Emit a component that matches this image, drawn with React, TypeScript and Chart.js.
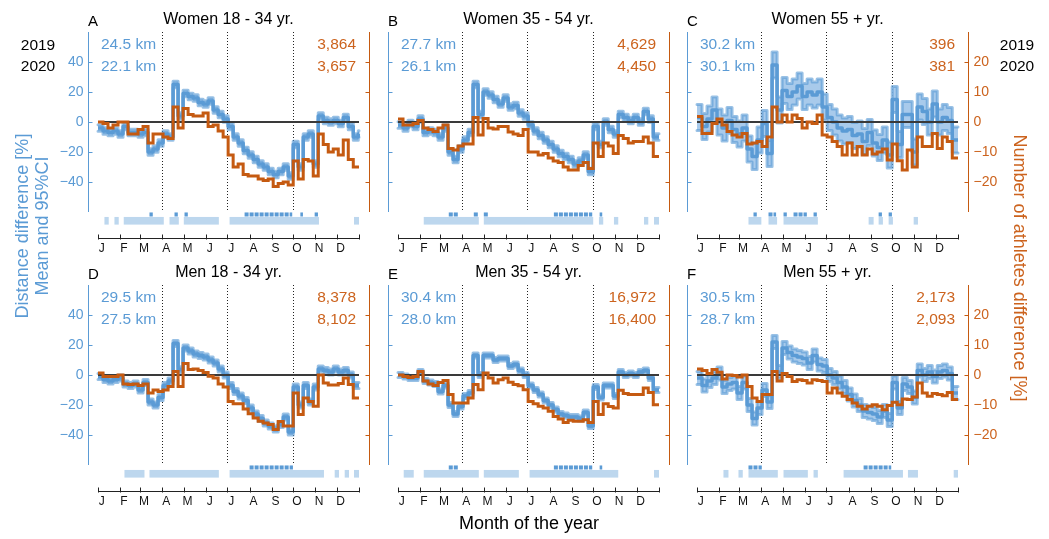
import React, { useEffect, useRef } from 'react';
import { Chart, registerables } from 'chart.js';

Chart.register(...registerables);

// ---------------- data ----------------
const MONTH_LABELS = ['J', 'F', 'M', 'A', 'M', 'J', 'J', 'A', 'S', 'O', 'N', 'D'];
const MONTH_START_DAYS = [0, 31, 59, 90, 120, 151, 181, 212, 243, 273, 304, 334];
const YEAR_END_DAY = 365;
const QUARTER_DAYS = [90, 181, 273];
const WEEK_START_DAYS = [0, 7, 14, 21, 28, 35, 42, 49, 56, 63, 70, 77, 84, 91, 98, 105, 112, 119, 126, 133, 140, 147, 154, 161, 168, 175, 182, 189, 196, 203, 210, 217, 224, 231, 238, 245, 252, 259, 266, 273, 280, 287, 294, 301, 308, 315, 322, 329, 336, 343, 350, 357, 364];
const DIST_TICKS = [-40, -20, 0, 20, 40];
const ATH_TICKS = [-20, -10, 0, 10, 20];
const ZERO_LINE = [{ x: 0, y: 0 }, { x: 365, y: 0 }];

const PANEL_TITLES = ['Women 18 - 34 yr.', 'Women 35 - 54 yr.', 'Women 55 + yr.', 'Men 18 - 34 yr.', 'Men 35 - 54 yr.', 'Men 55 + yr.'];
const PANEL_LETTERS = ['A', 'B', 'C', 'D', 'E', 'F'];
const KM_2019 = ['24.5 km', '27.7 km', '30.2 km', '29.5 km', '30.4 km', '30.5 km'];
const KM_2020 = ['22.1 km', '26.1 km', '30.1 km', '27.5 km', '28.0 km', '28.7 km'];
const ATHLETES_2019 = ['3,864', '4,629', '396', '8,378', '16,972', '2,173'];
const ATHLETES_2020 = ['3,657', '4,450', '381', '8,102', '16,400', '2,093'];

// distance difference (%), weekly mean
const distA = [-4, -6, -7, -6, -8, -3, -7, -7, -8, -7, -20, -18, -14, -8, -10, 25, 4, 19, 17, 16, 13, 12, 14, 8, 5, 2, -3, -10, -14, -19, -22, -25, -28, -30, -33, -35, -33, -30, -36, -15, -30, -10, -8, -28, 4, 1, 0, 1, -1, 3, -3, -10, -8];
const distB = [-2, -4, -1, -3, 2, -7, -6, -7, -10, -4, -20, -25, -18, -12, -7, 25, 5, 20, 18, 15, 12, 16, 10, 11, 6, 4, -2, -6, -9, -12, -15, -18, -21, -23, -25, -28, -26, -22, -33, -3, -15, 0, -5, -8, 5, 3, 1, 3, 0, 7, 2, -10, -10];
const distC = [3, -3, 2, 8, 0, -4, 1, -5, -8, -4, -18, -23, -12, -1, -21, 38, 8, 21, 17, 20, 24, 17, 20, 18, 20, 10, 3, 0, -4, -6, -5, -9, -8, -13, -7, -14, -17, -12, -22, 15, -15, 5, 5, -20, 10, 7, 0, 12, 0, 3, 1, -12, -12];
const distD = [-1, -3, -4, -3, -2, -6, -7, -6, -10, -5, -18, -20, -15, -7, -4, 21, 3.5, 18, 16, 14, 13, 12, 10, 8, 4, 0, -7, -11, -14, -17, -22, -26, -29, -32, -34, -36, -33, -28, -38, -8, -20, -7, -18, -8, 4, 3, 2, 4, 2, 3, 0, -7, -7];
const distE = [0, -1, -2, -2, 2, -4, -5, -6, -11, -7, -20, -26, -21, -14, -12, 13, 0, 13, 13, 10, 11, 11, 6, 7, 3, 0, -7, -10, -13, -17, -20, -23, -26, -27, -28, -28, -29, -25, -34, -8, -15, -7, -7, -14, 2, 0, 1, 0, 2, 3, -2, -10, -10];
const distF = [-2, -7, -4, -2, 1, -8, -6, -5, -12, -5, -20, -29, -22, -10, -18, 22, 2, 18, 15, 13, 12, 11, 8, 13, 7, 6, 0, -2, -5, -8, -13, -17, -20, -24, -25, -26, -28, -24, -30, -5, -22, -6, -8, -15, 3, 0, 2, -1, 2, 3, 1, -12, -12];

// number of athletes difference (%), weekly
const athA = [0, -0.5, -2, -1, 0, 0, -4, -4, -2.5, -1.5, -7, -4, -4, -5, -5.5, 5, -2, 4.5, 2.5, 2, 2, 3, -1.5, -1, -3, -5, -11, -15, -14, -17.5, -18, -18, -19, -19.5, -19, -21.5, -20.5, -20, -21, -13, -19, -12.5, -13, -18, -4, -7.5, -10, -9, -11, -6, -12.5, -15, -15];
const athB = [1, -1, -1, -0.5, 0.5, -2, -2.5, -3.2, -2, -1, -8.8, -9.3, -8, -7.3, -7.3, 1.5, -4.3, 1.2, -2, -2.3, -1.5, -1.5, -3.3, -4, -4.5, -2.5, -10, -10, -11, -10.5, -12, -13, -13.5, -15, -16, -16, -14.5, -13.5, -15.5, -7, -11.5, -7, -8, -10.5, -4.5, -5.5, -7, -6.5, -6.5, -5, -7, -11.5, -11.5];
const athC = [1.8, -3.8, -3.8, -0.5, 1, -1, -3.2, -4.3, -5, -3.8, -7.3, -7, -6.5, -8.2, -5, 5, 0, 2.3, 0, 2.3, 1.2, -2, 0, -0.5, 2.3, -4.3, -5, -6.5, -8.2, -11, -7, -11, -8.2, -11, -9, -10.7, -10, -9, -12.7, -7.3, -12.9, -16, -9.3, -15, -5, -8.2, -8.2, -3.8, -8.8, -5, -6.5, -12, -12];
const athD = [0.7, -0.5, -0.5, -0.5, 0, -3, -3.2, -3, -3.5, -3, -6, -5, -5.5, -5, -3.8, 1.2, -3.8, 3.8, 1.8, 2, 1.5, 0.8, -0.4, -1, -3, -4, -8.8, -9.6, -9.6, -11.3, -12.9, -14.3, -15.4, -16, -16.5, -18.2, -15.5, -17, -17, -6, -13.2, -7.7, -8.8, -10.4, 0, -2.7, -3.3, -3.3, -2.8, -1, -3.2, -7.7, -7.7];
const athE = [0, -0.5, -0.8, -0.5, 1.2, -2, -3, -3.5, -2.5, -1.8, -6.5, -9.3, -9.3, -9.3, -7.7, -3.2, -4.9, 0.7, -1, -2.7, -1.6, -1, -2.4, -3.2, -3.6, -4.9, -8.8, -9.6, -10.4, -11, -12.1, -13.8, -14.7, -15.8, -15.1, -15.4, -15.4, -14.9, -15.8, -8.8, -13.2, -9.6, -10.5, -11, -5.1, -6.2, -6.5, -6.5, -6.5, -4.3, -5.8, -9.9, -9.9];
const athF = [2, 1.5, 0.5, 1.8, 0.9, -1.3, 0, -0.2, -0.7, 0, -3.8, -7.7, -8.8, -6.5, -6.5, 1.2, -2, 0.5, -0.5, -2.2, -1.6, -1.8, -2.7, -1.6, -1.8, -2.2, -6, -4.3, -6, -7.1, -8.2, -9.3, -10.4, -11.3, -10.4, -9.9, -10.4, -11.6, -10.2, -9.1, -9.9, -8, -8.2, -7.3, -2.7, -6, -7.1, -6.2, -6.5, -6.9, -5.8, -8.2, -8.2];

// significant periods [startDay, endDay]
const sigStrongA = [[72, 78], [107, 113], [121, 127], [205, 273], [283, 288], [303, 309]];
const sigWeakA = [[9, 15], [23, 29], [36, 92], [100, 113], [120, 169], [184, 309], [358, 365]];
const sigStrongB = [[71, 85], [106, 113], [120, 127], [218, 273], [282, 287]];
const sigWeakB = [[36, 113], [120, 273], [281, 287], [302, 308], [344, 350], [358, 365]];
const sigStrongC = [[79, 85], [100, 112], [121, 127], [135, 155], [163, 169], [254, 260], [268, 274]];
const sigWeakC = [[72, 90], [100, 112], [121, 169], [240, 247], [254, 260], [268, 274], [303, 309]];
const sigStrongD = [[212, 274]];
const sigWeakD = [[37, 65], [72, 169], [184, 316], [331, 337], [345, 351], [358, 365]];
const sigStrongE = [[71, 85], [218, 273], [282, 287]];
const sigWeakE = [[8, 22], [36, 113], [120, 169], [184, 308], [358, 365]];
const sigStrongF = [[72, 92], [233, 273]];
const sigWeakF = [[37, 44], [58, 64], [72, 113], [121, 155], [163, 169], [205, 288], [295, 309], [359, 365]];

const DIST_SERIES = [distA, distB, distC, distD, distE, distF];
const ATH_SERIES = [athA, athB, athC, athD, athE, athF];
const SIG_STRONG = [sigStrongA, sigStrongB, sigStrongC, sigStrongD, sigStrongE, sigStrongF];
const SIG_WEAK = [sigWeakA, sigWeakB, sigWeakC, sigWeakD, sigWeakE, sigWeakF];

// ---------------- styles ----------------
const FONT = "'Liberation Sans', Arial, Helvetica, sans-serif";
const BLUE = '#5B9BD5';
const BAND_FILL = '#A8CAEB';
const BAND_RIM = 'rgba(91,155,213,0.62)';
const LIGHT_BAR = '#BDD7EE';
const ORANGE = '#C55A11';
const ORANGE_TEXT = '#CC631E';
const PANEL_POS = [[0, 0], [300, 0], [599, 0], [0, 253], [300, 253], [599, 253]];
const BAND_HALF_PX = [3.2, 3.2, 13, 3, 2.5, 6.5];
const SHOW_LEFT_LABELS = [true, false, false, true, false, false];
const SHOW_RIGHT_LABELS = [false, false, true, false, false, true];
const CANVAS_W = 420;
const CANVAS_H = 262;
const MEAN_DATASET_INDEX = 2;

const steps = (vals: number[]) => [
  ...vals.map((v, i) => ({ x: WEEK_START_DAYS[i], y: v })),
  { x: YEAR_END_DAY, y: vals[vals.length - 1] },
];

function stepVertices(pts: { x: number; y: number }[], off: number) {
  const v: number[][] = [[pts[0].x, pts[0].y + off]];
  for (let k = 1; k < pts.length; k++) {
    v.push([pts[k].x, pts[k - 1].y + off]);
    v.push([pts[k].x, pts[k].y + off]);
  }
  return v;
}

function makeDecor(i: number) {
  return {
    id: 'decor' + i,
    beforeDatasetDraw(chart: any, args: any) {
      if (args.index !== MEAN_DATASET_INDEX) return;
      const { ctx } = chart;
      const pts = args.meta.data.map((p: any) => ({ x: p.x, y: p.y }));
      const h = BAND_HALF_PX[i];
      const up = stepVertices(pts, -h);
      const lo = stepVertices(pts, h);
      ctx.save();
      ctx.beginPath();
      up.forEach(([x, y], k) => (k === 0 ? ctx.moveTo(x, y) : ctx.lineTo(x, y)));
      for (let k = lo.length - 1; k >= 0; k--) ctx.lineTo(lo[k][0], lo[k][1]);
      ctx.closePath();
      ctx.fillStyle = BAND_FILL;
      ctx.fill();
      ctx.lineJoin = 'round';
      ctx.lineCap = 'round';
      ctx.lineWidth = 3;
      ctx.strokeStyle = BAND_RIM;
      for (const path of [up, lo]) {
        ctx.beginPath();
        path.forEach(([x, y], k) => (k === 0 ? ctx.moveTo(x, y) : ctx.lineTo(x, y)));
        ctx.stroke();
      }
      ctx.restore();
    },
    beforeDatasetsDraw(chart: any) {
      const { ctx, chartArea: ca } = chart;
      const xs = chart.scales.x;
      const ys = chart.scales.y;
      const ys2 = chart.scales.y2;
      const px = (d: number) => xs.getPixelForValue(d);
      ctx.save();
      // significance bars
      ctx.fillStyle = LIGHT_BAR;
      const lt = ys.getPixelForValue(-63.3);
      const lb = ys.getPixelForValue(-68.4);
      for (const [s, e] of SIG_WEAK[i]) ctx.fillRect(px(s), lt, px(e) - px(s), lb - lt);
      ctx.fillStyle = BLUE;
      const dt = ys.getPixelForValue(-60.3);
      const db = ys.getPixelForValue(-63.0);
      for (const [s, e] of SIG_STRONG[i]) {
        for (let d = s; d < e - 1; d += 7) {
          const d2 = Math.min(d + 7, e);
          ctx.fillRect(px(d), dt, px(d2) - px(d) - 1, db - dt);
        }
      }
      const top = ys.getPixelForValue(60);
      const bot = ys.getPixelForValue(-60);
      // dotted quarter lines
      ctx.strokeStyle = '#222';
      ctx.lineWidth = 1;
      ctx.setLineDash([1, 2]);
      for (const d of QUARTER_DAYS) {
        const x = Math.round(px(d)) + 0.5;
        ctx.beginPath();
        ctx.moveTo(x, top);
        ctx.lineTo(x, bot);
        ctx.stroke();
      }
      ctx.setLineDash([]);
      // left (distance) axis
      const axL = Math.round(ca.left - 10) + 0.5;
      ctx.strokeStyle = BLUE;
      ctx.beginPath();
      ctx.moveTo(axL, top);
      ctx.lineTo(axL, bot);
      ctx.stroke();
      ctx.font = `14px ${FONT}`;
      ctx.fillStyle = BLUE;
      ctx.textAlign = 'right';
      ctx.textBaseline = 'middle';
      for (const t of DIST_TICKS) {
        const y = Math.round(ys.getPixelForValue(t)) + 0.5;
        ctx.beginPath();
        ctx.moveTo(axL, y);
        ctx.lineTo(axL + 4, y);
        ctx.stroke();
        if (SHOW_LEFT_LABELS[i]) ctx.fillText(t < 0 ? '\u2212' + Math.abs(t) : String(t), axL - 5, y);
      }
      // right (athletes) axis
      const axR = Math.round(ca.right + 10) + 0.5;
      ctx.strokeStyle = ORANGE;
      ctx.fillStyle = ORANGE_TEXT;
      ctx.beginPath();
      ctx.moveTo(axR, ys2.getPixelForValue(30));
      ctx.lineTo(axR, ys2.getPixelForValue(-30));
      ctx.stroke();
      ctx.textAlign = 'left';
      for (const t of ATH_TICKS) {
        const y = Math.round(ys2.getPixelForValue(t)) + 0.5;
        ctx.beginPath();
        ctx.moveTo(axR, y);
        ctx.lineTo(axR - 4, y);
        ctx.stroke();
        if (SHOW_RIGHT_LABELS[i]) ctx.fillText(t < 0 ? '\u2212' + Math.abs(t) : String(t), axR + 5, y);
      }
      // x axis
      const axY = Math.round(ca.bottom) + 0.5;
      ctx.strokeStyle = '#222';
      ctx.beginPath();
      ctx.moveTo(px(0), axY);
      ctx.lineTo(px(YEAR_END_DAY), axY);
      ctx.stroke();
      ctx.font = `12px ${FONT}`;
      ctx.fillStyle = '#111';
      ctx.textAlign = 'center';
      ctx.textBaseline = 'middle';
      const tickDays = [...MONTH_START_DAYS, YEAR_END_DAY];
      for (const d of tickDays) {
        const x = Math.round(px(d)) + 0.5;
        ctx.beginPath();
        ctx.moveTo(x, axY - 4);
        ctx.lineTo(x, axY + 1);
        ctx.stroke();
      }
      MONTH_START_DAYS.forEach((d, k) => {
        ctx.fillText(MONTH_LABELS[k], px(d) + 3.8, axY + 10.5);
      });
      ctx.restore();
    },
    afterDraw(chart: any) {
      const { ctx, chartArea: ca } = chart;
      ctx.save();
      ctx.textBaseline = 'middle';
      ctx.fillStyle = '#000';
      ctx.font = `16px ${FONT}`;
      ctx.textAlign = 'center';
      ctx.fillText(PANEL_TITLES[i], (ca.left + ca.right) / 2, ca.top - 12);
      ctx.textAlign = 'left';
      ctx.font = `15px ${FONT}`;
      ctx.fillText(PANEL_LETTERS[i], ca.left - 10, ca.top - 10);
      ctx.font = `15.5px ${FONT}`;
      ctx.fillStyle = BLUE;
      ctx.fillText(KM_2019[i], ca.left + 3, ca.top + 12.8);
      ctx.fillText(KM_2020[i], ca.left + 3, ca.top + 34.5);
      ctx.textAlign = 'right';
      ctx.fillStyle = ORANGE_TEXT;
      ctx.fillText(ATHLETES_2019[i], ca.right - 3, ca.top + 12.8);
      ctx.fillText(ATHLETES_2020[i], ca.right - 3, ca.top + 34.5);
      ctx.restore();
    },
  };
}

function Panel({ index }: { index: number }) {
  const ref = useRef<HTMLCanvasElement>(null);
  useEffect(() => {
    const dist = DIST_SERIES[index];
    const ath = ATH_SERIES[index];
    const datasets: any[] = [
      { data: steps(ath), yAxisID: 'y2', borderColor: ORANGE, borderWidth: 3, stepped: true, order: 1, pointRadius: 0, clip: false },
      { data: ZERO_LINE, yAxisID: 'y', borderColor: '#3a3a3a', borderWidth: 2, order: 2, pointRadius: 0, clip: false },
      { data: steps(dist), yAxisID: 'y', borderColor: BLUE, borderWidth: 3.5, stepped: true, order: 3, pointRadius: 0, clip: false, borderJoinStyle: 'round' },
    ];
    const chart = new Chart(ref.current as HTMLCanvasElement, {
      type: 'line',
      data: { datasets },
      options: {
        animation: false,
        responsive: false,
        maintainAspectRatio: false,
        devicePixelRatio: 1,
        events: [],
        layout: { padding: { left: 98, right: CANVAS_W - 98 - 261, top: 32, bottom: CANVAS_H - 238 }, autoPadding: false },
        plugins: { legend: { display: false }, tooltip: { enabled: false }, title: { display: false } },
        scales: {
          x: { type: 'linear', display: false, min: 0, max: YEAR_END_DAY },
          y: { type: 'linear', display: false, min: -77.33, max: 60 },
          y2: { type: 'linear', display: false, min: -38.665, max: 30, position: 'right' },
        },
      } as any,
      plugins: [makeDecor(index)],
    });
    return () => chart.destroy();
  }, [index]);
  const [left, top] = PANEL_POS[index];
  return (
    <canvas
      ref={ref}
      width={CANVAS_W}
      height={CANVAS_H}
      style={{ position: 'absolute', left, top, width: CANVAS_W, height: CANVAS_H }}
    />
  );
}

function Label({ x, y, text, size, color, rotate }: { x: number; y: number; text: React.ReactNode; size: number; color: string; rotate?: number }) {
  return (
    <div
      style={{
        position: 'absolute',
        left: x,
        top: y,
        transform: `translate(-50%, -50%) rotate(${rotate || 0}deg)`,
        fontFamily: FONT,
        fontSize: size,
        color,
        whiteSpace: 'nowrap',
        textAlign: 'center',
        lineHeight: 1.12,
      }}
    >
      {text}
    </div>
  );
}

export default function App() {
  return (
    <div style={{ position: 'fixed', left: 0, top: 0, width: 1049, height: 539, background: '#fff', overflow: 'hidden' }}>
      {[0, 1, 2, 3, 4, 5].map((i) => (
        <Panel key={i} index={i} />
      ))}
      <Label x={38} y={44.7} text="2019" size={15.5} color="#000" />
      <Label x={38} y={66.4} text="2020" size={15.5} color="#000" />
      <Label x={1017} y={44.7} text="2019" size={15.5} color="#000" />
      <Label x={1017} y={66.4} text="2020" size={15.5} color="#000" />
      <Label x={32} y={226} text={<>Distance difference [%]<br />Mean and 95%CI</>} size={18} color={BLUE} rotate={-90} />
      <Label x={1020} y={268} text="Number of athletes difference [%]" size={18} color={ORANGE_TEXT} rotate={90} />
      <Label x={529} y={523} text="Month of the year" size={18} color="#000" />
    </div>
  );
}
